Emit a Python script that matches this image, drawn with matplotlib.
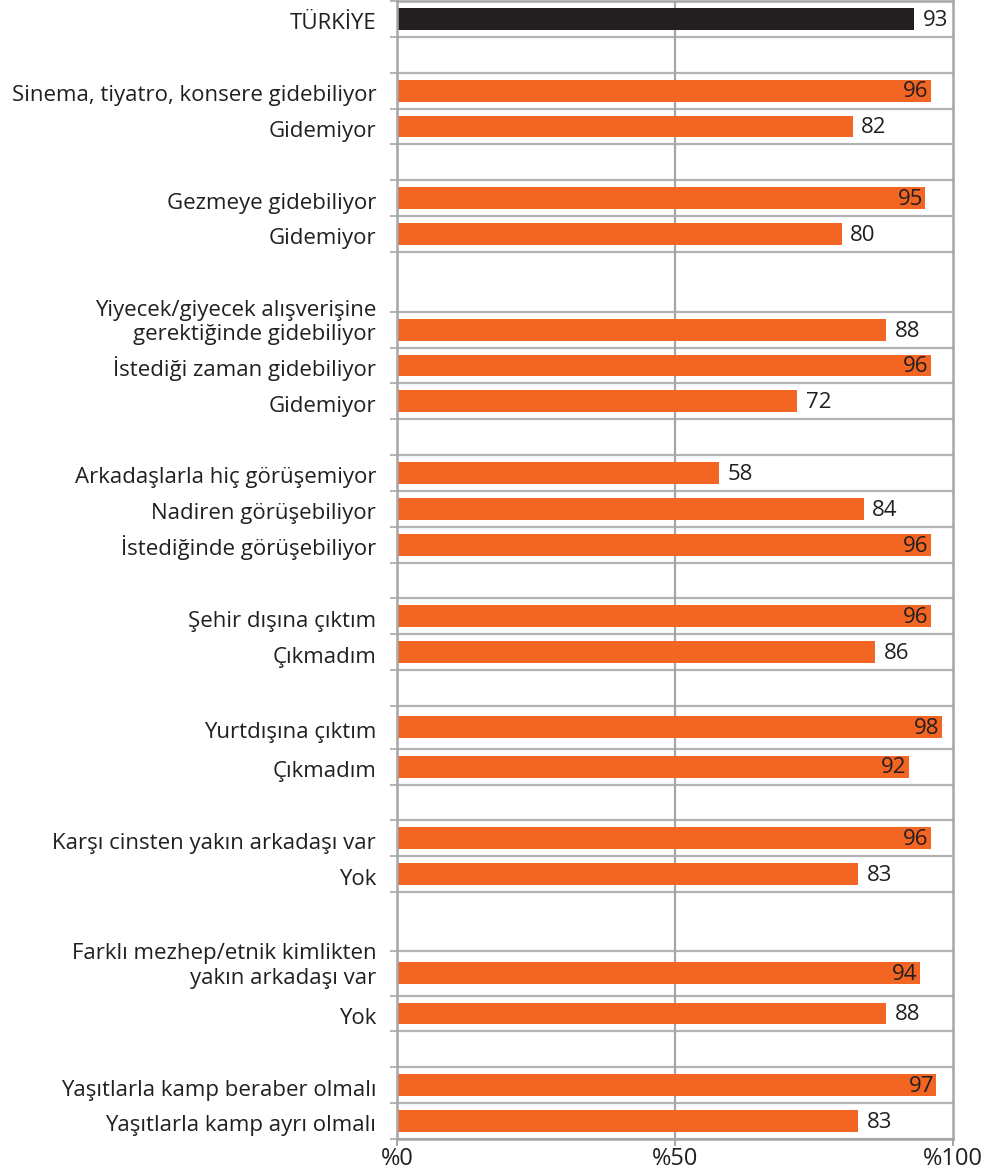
import numpy as np
import matplotlib.pyplot as plt

plt.rcParams['font.family'] = ['Open Sans', 'DejaVu Sans']

# data: one entry per row, None marks an empty spacer row
labels = ['TÜRKİYE', None,
          'Sinema, tiyatro, konsere gidebiliyor', 'Gidemiyor', None,
          'Gezmeye gidebiliyor', 'Gidemiyor', None,
          'Yiyecek/giyecek alışverişine\ngerektiğinde gidebiliyor', 'İstediği zaman gidebiliyor', 'Gidemiyor', None,
          'Arkadaşlarla hiç görüşemiyor', 'Nadiren görüşebiliyor', 'İstediğinde görüşebiliyor', None,
          'Şehir dışına çıktım', 'Çıkmadım', None,
          'Yurtdışına çıktım', 'Çıkmadım', None,
          'Karşı cinsten yakın arkadaşı var', 'Yok', None,
          'Farklı mezhep/etnik kimlikten\nyakın arkadaşı var', 'Yok', None,
          'Yaşıtlarla kamp beraber olmalı', 'Yaşıtlarla kamp ayrı olmalı']
values = [93, None,
          96, 82, None,
          95, 80, None,
          88, 96, 72, None,
          58, 84, 96, None,
          96, 86, None,
          98, 92, None,
          96, 83, None,
          94, 88, None,
          97, 83]
x_ticks = [0, 50, 100]
x_ticklabels = ['%0', '%50', '%100']

# layout: relative height of each row (1 = normal row)
row_heights = [1, 1, 1, 1, 1, 1, 1, 1.67, 1, 1, 1, 1, 1, 1, 1, 1, 1, 1, 1,
               1.19, 1, 1, 1, 1, 1.64, 1.25, 1, 1, 1, 1]

ORANGE = '#F26522'
DARK = '#231F20'
GRID = '#b3b3b3'
FS = 16

edges = np.concatenate([[0], np.cumsum(row_heights)])
centers = (edges[:-1] + edges[1:]) / 2

fig = plt.figure(figsize=(9.92, 11.72), dpi=100)
ax = fig.add_axes([397 / 992, 1 - 1139 / 1172, (953 - 397) / 992, 1138 / 1172])
ax.set_xlim(0, 100)
ax.set_ylim(edges[-1], 0)

# horizontal separators at every row boundary
for e in edges:
    ax.axhline(e, color=GRID, lw=1.6, zorder=1)
ax.axvline(50, color='#a6a6a6', lw=1.6, zorder=1)

for i, (lab, v) in enumerate(zip(labels, values)):
    if v is None:
        continue
    c = centers[i]
    col = DARK if i == 0 else ORANGE
    ax.barh(c, v, height=0.61, color=col, zorder=2)
    if i != 0 and v >= 90:
        ax.annotate(str(v), (v, c), xytext=(-1.5, -1), textcoords='offset points',
                    ha='right', va='center', fontsize=FS, color=DARK, zorder=3)
    else:
        ax.annotate(str(v), (v, c), xytext=(6, -1), textcoords='offset points',
                    ha='left', va='center', fontsize=FS, color=DARK, zorder=3)
    ax.annotate(lab, xy=(0, c), xycoords=('axes fraction', 'data'),
                xytext=(-15, -7.5), textcoords='offset points',
                ha='right', va='baseline', fontsize=FS, color=DARK,
                multialignment='right', linespacing=1.2)

ax.set_yticks(edges)
ax.set_yticklabels([])
ax.tick_params(axis='y', length=5, width=1.4, color=GRID)
ax.set_xticks(x_ticks)
ax.set_xticklabels(x_ticklabels, fontsize=17, color=DARK)
ax.tick_params(axis='x', length=5, width=1.4, color='#a6a6a6', pad=1)

for s in ['left', 'right', 'bottom', 'top']:
    ax.spines[s].set_color('#a6a6a6')
    ax.spines[s].set_linewidth(1.8)

fig.savefig('out.png', dpi=100)
